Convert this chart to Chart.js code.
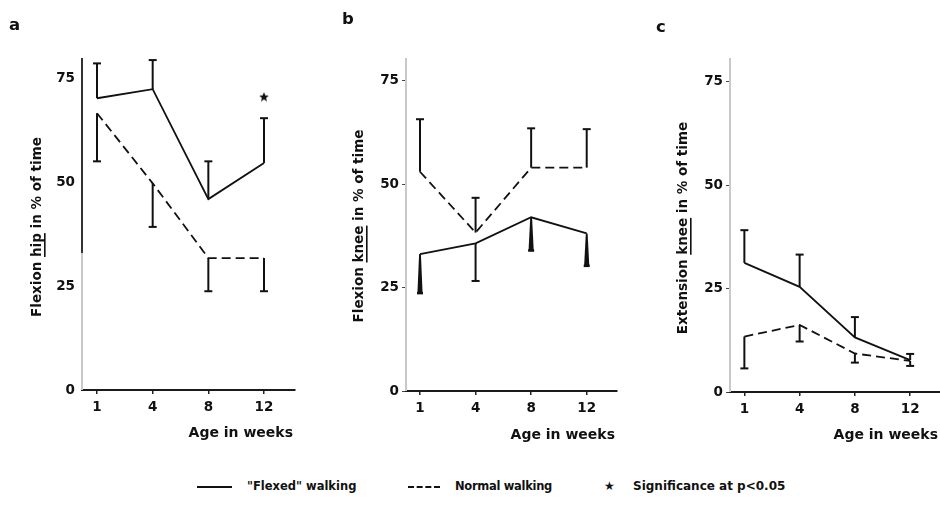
<!DOCTYPE html>
<html>
<head>
<meta charset="utf-8">
<script src="https://cdn.jsdelivr.net/npm/chart.js@4.4.1/dist/chart.umd.min.js"></script>
<style>
  body { margin: 0; background: #fff; }
  #wrap { position: relative; width: 940px; height: 519px; overflow: hidden; font-family: "DejaVu Sans", sans-serif; color: #111; }
  #wrap canvas { position: absolute; top: 0; }
  .lg { position: absolute; top: 479px; font-size: 11.5px; font-weight: bold; white-space: nowrap; line-height: 14px; }
  .lg-line { position: absolute; top: 486px; height: 0; }
</style>
</head>
<body>
<div id="wrap">
  <canvas id="panelA" width="320" height="460" style="left:0px"></canvas>
  <canvas id="panelB" width="310" height="460" style="left:320px"></canvas>
  <canvas id="panelC" width="310" height="460" style="left:630px"></canvas>

  <div class="lg-line" style="left:197px; width:35px; border-top:2px solid #111;"></div>
  <div class="lg" style="left:247px;">"Flexed" walking</div>
  <div class="lg-line" style="left:408px; width:32px; border-top:2px dashed #111;"></div>
  <div class="lg" style="left:455px; letter-spacing:-0.3px;">Normal walking</div>
  <div class="lg" style="left:604px; font-size:12px;">★</div>
  <div class="lg" style="left:633px; font-size:12px;">Significance at p&lt;0.05</div>
</div>

<script>
// weeks of age on the x axis, value ticks on the y axis
const weeks = ['1', '4', '8', '12'];
const yTicks = [0, 25, 50, 75];

// a: hip flexion (% of time), mean and end of SD bar
const hipFlexed = [70.3, 72.5, 46.0, 54.7];
const hipFlexedSd = [78.7, 79.5, 55.1, 65.5];
const hipNormal = [66.7, 49.8, 31.8, 31.8];
const hipNormalSd = [55.1, 39.3, 23.8, 23.8];
const hipSigWeek = [3];
const hipSigValue = [70.7];

// b: knee flexion
const kneeFlexFlexed = [33.1, 35.7, 42.0, 38.1];
const kneeFlexFlexedSd = [23.6, 26.6, 33.9, 30.2];
const kneeFlexNormal = [53.0, 38.3, 54.0, 54.0];
const kneeFlexNormalSd = [65.7, 46.7, 63.5, 63.3];

// c: knee extension
const kneeExtFlexed = [31.2, 25.4, 13.2, 7.7];
const kneeExtFlexedSd = [39.1, 33.2, 18.1, 9.2];
const kneeExtNormal = [13.4, 16.2, 9.3, 7.5];
const kneeExtNormalSd = [5.7, 12.2, 7.1, 6.3];

const FONT = '"DejaVu Sans", sans-serif';
const INK = '#111';

function pts(values) {
  return values.map((v, i) => ({ x: i, y: v }));
}

// small filled star used as point style
function starImage(size) {
  const c = document.createElement('canvas');
  c.width = c.height = size;
  const g = c.getContext('2d');
  g.fillStyle = INK;
  g.beginPath();
  for (let k = 0; k < 10; k++) {
    const r = k % 2 ? size * 0.22 : size * 0.5;
    const a = -Math.PI / 2 + k * Math.PI / 5;
    g.lineTo(size / 2 + r * Math.cos(a), size / 2 + r * Math.sin(a) + size * 0.06);
  }
  g.closePath();
  g.fill();
  return c;
}

// vertical SD bars from the mean to the bar end, with a cap
const errorBars = {
  id: 'errorBars',
  afterDatasetsDraw(chart) {
    const { ctx, scales: { x, y } } = chart;
    chart.data.datasets.forEach(ds => {
      if (!ds.sdEnds) return;
      ds.sdEnds.forEach((end, j) => {
        const px = x.getPixelForValue(j);
        const p0 = y.getPixelForValue(ds.data[j].y);
        const p1 = y.getPixelForValue(end);
        ctx.save();
        ctx.fillStyle = INK;
        ctx.strokeStyle = INK;
        if (ds.wedge && ds.wedge[j]) {
          ctx.beginPath();
          ctx.moveTo(px - 0.9, p0);
          ctx.lineTo(px + 0.9, p0);
          ctx.lineTo(px + 2.6, p1);
          ctx.lineTo(px - 2.6, p1);
          ctx.closePath();
          ctx.fill();
          ctx.fillRect(px - 3, p1 - 1.5, 6, 2.5);
        } else {
          ctx.lineWidth = 2;
          ctx.beginPath();
          ctx.moveTo(px, p0);
          ctx.lineTo(px, p1);
          ctx.stroke();
          ctx.lineWidth = 2;
          ctx.beginPath();
          ctx.moveTo(px - 4, p1);
          ctx.lineTo(px + 4, p1);
          ctx.stroke();
        }
        ctx.restore();
      });
    });
  }
};

// y axis line, panel letter and axis titles
const decor = {
  id: 'decor',
  beforeDatasetsDraw(chart, args, o) {
    const { ctx, chartArea: a, scales: { y } } = chart;
    ctx.save();
    ctx.lineWidth = 2;
    const split = o.darkFrom != null ? y.getPixelForValue(o.darkFrom) : a.top;
    ctx.strokeStyle = '#333';
    ctx.beginPath(); ctx.moveTo(a.left, a.top); ctx.lineTo(a.left, split); ctx.stroke();
    ctx.strokeStyle = '#c9c9c9';
    ctx.beginPath(); ctx.moveTo(a.left, split); ctx.lineTo(a.left, a.bottom); ctx.stroke();
    ctx.restore();
  },
  afterDraw(chart, args, o) {
    const { ctx } = chart;
    ctx.save();
    ctx.fillStyle = INK;
    ctx.textBaseline = 'alphabetic';
    ctx.font = 'bold 16.5px ' + FONT;
    ctx.fillText(o.letter, o.letterX, o.letterY);

    ctx.font = 'bold 14px ' + FONT;
    ctx.textAlign = 'right';
    ctx.textBaseline = 'middle';
    ctx.fillText('Age in weeks', o.xTitleRight, o.xTitleY);

    // rotated y title with one underlined word
    ctx.font = 'bold 13.5px ' + FONT;
    ctx.textAlign = 'left';
    const parts = o.yTitle;
    const full = parts.join('');
    const w = ctx.measureText(full).width;
    ctx.translate(o.yTitleX, o.yTitleY);
    ctx.rotate(-Math.PI / 2);
    let cx = -w / 2;
    parts.forEach((p, k) => {
      ctx.fillText(p, cx, 0);
      const pw = ctx.measureText(p).width;
      if (k === 1) {
        ctx.fillRect(cx, 7, pw, 1.6);
      }
      cx += pw;
    });
    ctx.restore();
  }
};

function panel(id, g, datasets, deco) {
  const axisFont = { family: FONT, size: 13.5, weight: 'bold' };
  return new Chart(document.getElementById(id), {
    type: 'line',
    data: { datasets },
    options: {
      responsive: false,
      animation: false,
      layout: { padding: { left: 0, top: g.top, right: g.width - g.right, bottom: 460 - g.bottom - 30 } },
      plugins: { legend: { display: false }, tooltip: { enabled: false }, decor: deco },
      elements: { line: { tension: 0, borderColor: INK, borderWidth: 1.8, fill: false }, point: { radius: 0 } },
      scales: {
        x: {
          type: 'linear', min: g.xMin, max: g.xMax,
          afterBuildTicks: s => { s.ticks = weeks.map((w, i) => ({ value: i })); },
          afterFit: s => { s.height = 30; },
          ticks: { callback: v => weeks[v], color: INK, font: axisFont, padding: 5, maxRotation: 0, autoSkip: false },
          grid: { drawOnChartArea: false, drawTicks: true, tickLength: 4, color: '#222', lineWidth: 1.5 },
          border: { display: true, color: '#1a1a1a', width: 2 }
        },
        y: {
          min: 0, max: g.yMax,
          afterBuildTicks: s => { s.ticks = yTicks.map(v => ({ value: v })); },
          afterFit: s => { s.width = g.left; },
          ticks: { color: INK, font: axisFont, padding: 3 },
          grid: { drawOnChartArea: false, drawTicks: true, tickLength: 4, color: g.yTickColor },
          border: { display: false }
        }
      }
    },
    plugins: [decor, errorBars]
  });
}

const star = starImage(10);

panel('panelA',
  { width: 320, left: 82, right: 295, top: 58, bottom: 390, xMin: -0.27, xMax: 3.557, yMax: 80, yTickColor: 'rgba(0,0,0,0)' },
  [
    { data: pts(hipFlexed), sdEnds: hipFlexedSd },
    { data: pts(hipNormal), sdEnds: hipNormalSd, borderDash: [9, 5] },
    { data: hipSigWeek.map((w, i) => ({ x: w, y: hipSigValue[i] })), showLine: false, pointStyle: star, pointRadius: 5 }
  ],
  { letter: 'a', letterX: 9, letterY: 30, xTitleRight: 293, xTitleY: 433,
    yTitle: ['Flexion ', 'hip', ' in % of time'], yTitleX: 37, yTitleY: 227, darkFrom: 33 });

panel('panelB',
  { width: 310, left: 86, right: 297, top: 58, bottom: 391, xMin: -0.252, xMax: 3.545, yMax: 80.5, yTickColor: '#444' },
  [
    { data: pts(kneeFlexFlexed), sdEnds: kneeFlexFlexedSd, wedge: [true, false, true, true] },
    { data: pts(kneeFlexNormal), sdEnds: kneeFlexNormalSd, borderDash: [9, 5] }
  ],
  { letter: 'b', letterX: 22, letterY: 24, xTitleRight: 295, xTitleY: 435,
    yTitle: ['Flexion ', 'knee', ' in % of time'], yTitleX: 39, yTitleY: 226 });

panel('panelC',
  { width: 310, left: 100, right: 310, top: 58, bottom: 392, xMin: -0.26, xMax: 3.54, yMax: 80.7, yTickColor: '#444' },
  [
    { data: pts(kneeExtFlexed), sdEnds: kneeExtFlexedSd },
    { data: pts(kneeExtNormal), sdEnds: kneeExtNormalSd, borderDash: [9, 5] }
  ],
  { letter: 'c', letterX: 26, letterY: 32, xTitleRight: 308, xTitleY: 435,
    yTitle: ['Extension ', 'knee', ' in % of time'], yTitleX: 53, yTitleY: 228 });
</script>
</body>
</html>
